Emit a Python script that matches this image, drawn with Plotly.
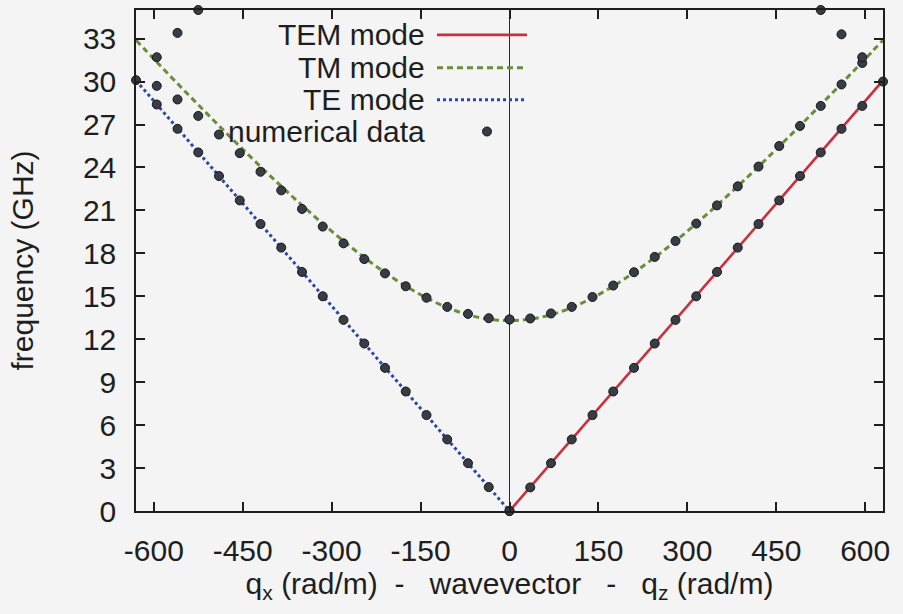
import plotly.graph_objects as go

# ---------------- data ----------------
# theory lines
tem_q = [0, 630]
tem_f = [0.0, 30.08]
te_q = [-630, 0]
te_f = [30.08, 0.0]
tm_q = [-630, -595, -560, -525, -490, -455, -420, -385, -350, -315, -280, -245, -210,
        -175, -140, -105, -70, -35, 0, 35, 70, 105, 140, 175, 210, 245, 280, 315,
        350, 385, 420, 455, 490, 525, 560, 595, 630]
tm_f = [32.89, 31.37, 29.86, 28.38, 26.91, 25.48, 24.06, 22.69, 21.36, 20.08, 18.86,
        17.71, 16.66, 15.71, 14.89, 14.21, 13.71, 13.40, 13.30, 13.40, 13.71, 14.21,
        14.89, 15.71, 16.66, 17.71, 18.86, 20.08, 21.36, 22.69, 24.06, 25.48, 26.91,
        28.38, 29.86, 31.37, 32.89]

# numerical data
num_te_q = [-630, -595, -560, -525, -490, -455, -420, -385, -350, -315, -280, -245,
            -210, -175, -140, -105, -70, -35, 0]
num_te_f = [30.1, 28.4, 26.7, 25.05, 23.4, 21.7, 20.05, 18.4, 16.7, 15.0, 13.35,
            11.7, 10.0, 8.35, 6.7, 5.0, 3.34, 1.67, 0.0]
num_tem_q = [0, 35, 70, 105, 140, 175, 210, 245, 280, 315, 350, 385, 420, 455, 490,
             525, 560, 595, 630]
num_tem_f = [0.0, 1.65, 3.34, 5.0, 6.7, 8.35, 10.0, 11.7, 13.35, 15.0, 16.7, 18.4,
             20.05, 21.7, 23.4, 25.05, 26.7, 28.3, 30.0]
num_tml_q = [-595, -560, -525, -490, -455, -420, -385, -350, -315, -280, -245, -210,
             -175, -140, -105, -70, -35, 0]
num_tml_f = [29.7, 28.75, 27.6, 26.3, 25.0, 23.7, 22.4, 21.1, 19.87, 18.7, 17.6, 16.6,
             15.7, 14.9, 14.26, 13.77, 13.47, 13.38]
num_tmr_q = [0, 35, 70, 105, 140, 175, 210, 245, 280, 315, 350, 385, 420, 455, 490,
             525, 560, 595]
num_tmr_f = [13.38, 13.45, 13.8, 14.26, 14.95, 15.75, 16.68, 17.75, 18.86, 20.08,
             21.35, 22.68, 24.06, 25.5, 26.9, 28.3, 29.8, 31.3]
num_fold_q = [-595, -560, -525, 525, 560, 595]
num_fold_f = [31.7, 33.4, 35.0, 35.0, 33.3, 31.7]

x_ticks = [-600, -450, -300, -150, 0, 150, 300, 450, 600]
y_ticks = [0, 3, 6, 9, 12, 15, 18, 21, 24, 27, 30, 33]
legend_names = ["TEM mode", "TM mode", "TE mode", "numerical data"]

# ---------------- styles ----------------
RED = "#c8303f"
GREEN = "#6b8c3a"
BLUE = "#2a45a8"
DOT = "#383c44"
BG = "#f3f4f3"
FONT = "Liberation Sans, Arial, sans-serif"
FS = 30

fig = go.Figure()
fig.add_trace(go.Scatter(x=tem_q, y=tem_f, mode="lines",
                         line=dict(color=RED, width=2.6), name=legend_names[0],
                         showlegend=False))
fig.add_trace(go.Scatter(x=tm_q, y=tm_f, mode="lines", line_shape="spline",
                         line=dict(color=GREEN, width=3, dash="6px,4px"),
                         name=legend_names[1], showlegend=False))
fig.add_trace(go.Scatter(x=te_q, y=te_f, mode="lines",
                         line=dict(color=BLUE, width=3, dash="dot"),
                         name=legend_names[2], showlegend=False))

num_q = num_te_q + num_tem_q + num_tml_q + num_tmr_q + num_fold_q
num_f = num_te_f + num_tem_f + num_tml_f + num_tmr_f + num_fold_f
fig.add_trace(go.Scatter(x=num_q, y=num_f, mode="markers", cliponaxis=False,
                         marker=dict(color=DOT, size=9,
                                     line=dict(color="#15171a", width=1)),
                         name=legend_names[3], showlegend=False))

# ---------------- custom legend (text left, sample right) ----------------
L, R, T, B = 136, 883, 8, 511
W, H = R - L, B - T


def px(xp):
    return (xp - L) / W


def py(yp):
    return (B - yp) / H


leg_y = [33, 66, 98, 130]
styles = [dict(color=RED, width=2.6), dict(color=GREEN, width=3, dash="6px,4px"),
          dict(color=BLUE, width=3, dash="dot")]
for i, name in enumerate(legend_names):
    fig.add_annotation(x=px(427), y=py(leg_y[i]), xref="paper", yref="paper",
                       text=name, showarrow=False, xanchor="right", yanchor="middle",
                       font=dict(family=FONT, size=FS, color="#1e1e1e"))
    if i < 3:
        fig.add_shape(type="line", xref="paper", yref="paper",
                      x0=px(437), x1=px(527), y0=py(leg_y[i]), y1=py(leg_y[i]),
                      line=styles[i])
    else:
        fig.add_shape(type="circle", xref="paper", yref="paper",
                      x0=px(482.5), x1=px(491.5), y0=py(leg_y[i] + 4.5),
                      y1=py(leg_y[i] - 4.5),
                      fillcolor=DOT, line=dict(color="#15171a", width=1))

axis_common = dict(showline=True, linecolor="#1e1e1e", linewidth=1.5, mirror="ticks",
                   ticks="inside", ticklen=9, tickwidth=1.5, tickcolor="#1e1e1e",
                   showgrid=False, tickfont=dict(family=FONT, size=FS, color="#1e1e1e"))

fig.update_xaxes(range=[-630, 630], tickvals=x_ticks,
                 ticktext=[str(v) for v in x_ticks],
                 zeroline=True, zerolinecolor="#2a2a2a", zerolinewidth=1.2,
                 ticklabelstandoff=12,
                 title=dict(text="q<sub>x</sub> (rad/m)\u00a0\u00a0-\u00a0\u00a0\u00a0wavevector\u00a0\u00a0\u00a0-\u00a0\u00a0\u00a0q<sub>z</sub> (rad/m)",
                            font=dict(family=FONT, size=FS, color="#1e1e1e"),
                            standoff=6),
                 **axis_common)
fig.update_yaxes(range=[0, 35], tickvals=y_ticks, zeroline=False,
                 ticklabelstandoff=12,
                 title=dict(text="frequency (GHz)",
                            font=dict(family=FONT, size=FS, color="#1e1e1e"),
                            standoff=40),
                 **axis_common)

fig.update_layout(width=903, height=614, plot_bgcolor=BG, paper_bgcolor=BG,
                  margin=dict(l=L, r=903 - R, t=T, b=614 - B),
                  showlegend=False)

fig.write_html("out.html")
